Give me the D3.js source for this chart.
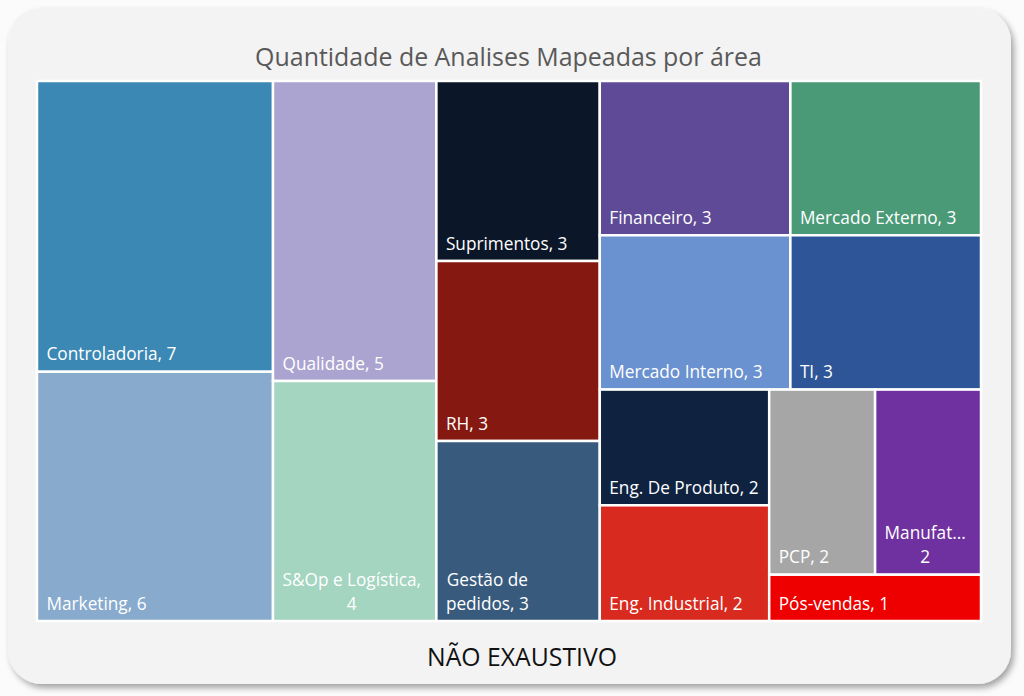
<!DOCTYPE html>
<html><head><meta charset="utf-8">
<script src="https://cdn.jsdelivr.net/npm/d3@7"></script>
<style>html,body{margin:0;padding:0;background:#fff;} svg{display:block}</style>
</head><body>
<script>
const title = "Quantidade de Analises Mapeadas por área";
const footer = "NÃO EXAUSTIVO";
const categories = ["Controladoria","Marketing","Qualidade","S&Op e Logística","Suprimentos","RH","Gestão de pedidos","Financeiro","Mercado Externo","Mercado Interno","TI","Eng. De Produto","Eng. Industrial","PCP","Manufatura","Pós-vendas"];
const values = [7,6,5,4,3,3,3,3,3,3,3,2,2,2,2,1];
const colors = ["#3b88b5","#88aacd","#aba4d0","#a3d5c0","#0b1628","#851911","#375a7d","#5e4a97","#4a9a78","#6a91d0","#2e5597","#0f2341","#d92a1f","#a6a6a6","#7031a0","#ee0000"];

const W = 1024, H = 696;
const FONT = "'Open Sans', 'Noto Sans', 'DejaVu Sans', sans-serif";
const area = {x: 37, y: 81, w: 944, h: 540};

const svg = d3.select("body").append("svg").attr("width", W).attr("height", H);
const defs = svg.append("defs");
const f = defs.append("filter").attr("id", "shadow").attr("x", "-5%").attr("y", "-5%").attr("width", "110%").attr("height", "112%");
f.append("feDropShadow").attr("dx", 3).attr("dy", 4).attr("stdDeviation", 3).attr("flood-color", "#000").attr("flood-opacity", 0.35);

svg.append("rect").attr("width", W).attr("height", H).attr("fill", "#fbfbfb");
svg.append("rect").attr("x", 8).attr("y", 8).attr("width", 1003).attr("height", 676).attr("rx", 34)
  .attr("fill", "#f3f3f3").attr("filter", "url(#shadow)");

// hidden measurer
const meas = svg.append("text").attr("font-family", FONT).attr("x", -1000).attr("y", -1000);
function measure(str, size) { meas.attr("font-size", size).text(str); return meas.node().getComputedTextLength(); }

// title & footer fitted to reference widths
const titleSize = 24 * 507 / measure(title, 24);
svg.append("text").attr("x", 508.5).attr("y", 66).attr("text-anchor", "middle")
  .attr("font-family", FONT).attr("font-size", titleSize).attr("fill", "#595959").text(title);
const footSize = 24 * 190 / measure(footer, 24);
svg.append("text").attr("x", 522).attr("y", 666).attr("text-anchor", "middle")
  .attr("font-family", FONT).attr("font-size", footSize).attr("fill", "#111").text(footer);

// squarified tiling (Excel-like aspect preference)
const RATIO = 0.9;
function excelTile(parent, x0, y0, x1, y1) {
  const nodes = parent.children, n = nodes.length;
  let value = parent.value, i0 = 0, i1 = 0;
  while (i0 < n) {
    const dx = x1 - x0, dy = y1 - y0;
    let sumValue;
    do sumValue = nodes[i1++].value; while (!sumValue && i1 < n);
    let minValue = sumValue, maxValue = sumValue;
    const alpha = Math.max(dy / dx, dx / dy) / (value * RATIO);
    let beta = sumValue * sumValue * alpha;
    let minRatio = Math.max(maxValue / beta, beta / minValue);
    for (; i1 < n; ++i1) {
      const nv = nodes[i1].value;
      sumValue += nv;
      if (nv < minValue) minValue = nv;
      if (nv > maxValue) maxValue = nv;
      beta = sumValue * sumValue * alpha;
      const newRatio = Math.max(maxValue / beta, beta / minValue);
      if (newRatio > minRatio) { sumValue -= nv; break; }
      minRatio = newRatio;
    }
    const row = {value: sumValue, children: nodes.slice(i0, i1)};
    if (dx < dy) d3.treemapDice(row, x0, y0, x1, value ? y0 += dy * sumValue / value : y1);
    else d3.treemapSlice(row, x0, y0, value ? x0 += dx * sumValue / value : x1, y1);
    value -= sumValue; i0 = i1;
  }
}

const root = d3.hierarchy({children: categories.map((c, i) => ({name: c, value: values[i], color: colors[i]}))})
  .sum(d => d.value || 0);
d3.treemap().tile(excelTile).size([area.w, area.h]).round(false)(root);

const g = svg.append("g").attr("transform", `translate(${area.x},${area.y})`);
const leaves = root.leaves();
g.selectAll("rect.tile").data(leaves).join("rect").attr("class", "tile")
  .attr("x", d => d.x0).attr("y", d => d.y0)
  .attr("width", d => d.x1 - d.x0).attr("height", d => d.y1 - d.y0)
  .attr("fill", d => d.data.color).attr("stroke", "#fff").attr("stroke-width", 2.5);

const labelSize = 18 * 130 / measure("Controladoria, 7", 18);
function layoutLines(full, maxW, size) {
  if (measure(full, size) <= maxW) return [full];
  const words = full.split(" ");
  const lines = []; let cur = "";
  words.forEach(w => {
    const t = cur ? cur + " " + w : w;
    if (measure(t, size) <= maxW) cur = t;
    else { if (cur) lines.push(cur); cur = w; }
  });
  if (cur) lines.push(cur);
  return lines.map(l => {
    if (measure(l, size) <= maxW) return l;
    let s = l;
    while (s.length > 1 && measure(s.replace(/[,\s]+$/, "") + "...", size) > maxW) s = s.slice(0, -1);
    return s.replace(/[,\s]+$/, "") + "...";
  });
}

leaves.forEach(d => {
  const full = `${d.data.name}, ${d.data.value}`;
  const maxW = d.x1 - d.x0 - 16;
  const lines = layoutLines(full, maxW, labelSize);
  const bw = d3.max(lines, l => measure(l, labelSize));
  const cx = d.x0 + 9.5 + bw / 2;
  const t = g.append("text").attr("font-family", FONT).attr("font-size", labelSize)
    .attr("fill", "#fff").attr("text-anchor", "middle");
  lines.forEach((l, i) => {
    t.append("tspan").attr("x", cx).attr("y", d.y1 - 11.5 - (lines.length - 1 - i) * 24).text(l);
  });
});
meas.remove();
</script>
</body></html>
